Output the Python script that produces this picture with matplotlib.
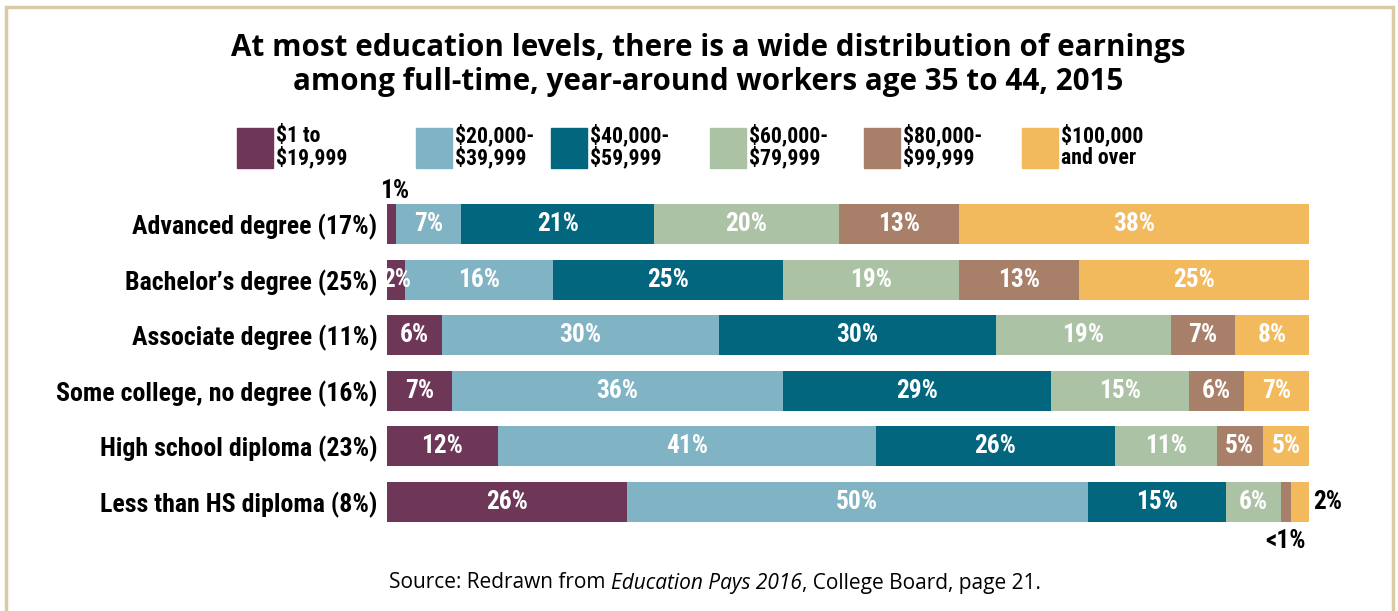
import matplotlib
matplotlib.use("Agg")
import matplotlib.pyplot as plt
from matplotlib.patches import Rectangle
from matplotlib import font_manager
from matplotlib.font_manager import FontProperties

# data
levels = ["Advanced degree (17%)", "Bachelor\u2019s degree (25%)", "Associate degree (11%)",
          "Some college, no degree (16%)", "High school diploma (23%)", "Less than HS diploma (8%)"]
brackets = ["$1 to\n$19,999", "$20,000-\n$39,999", "$40,000-\n$59,999",
            "$60,000-\n$79,999", "$80,000-\n$99,999", "$100,000\nand over"]
shares = [
    [1, 7, 21, 20, 13, 38],
    [2, 16, 25, 19, 13, 25],
    [6, 30, 30, 19, 7, 8],
    [7, 36, 29, 15, 6, 7],
    [12, 41, 26, 11, 5, 5],
    [26, 50, 15, 6, 1, 2],
]
labels = [
    ["1%", "7%", "21%", "20%", "13%", "38%"],
    ["2%", "16%", "25%", "19%", "13%", "25%"],
    ["6%", "30%", "30%", "19%", "7%", "8%"],
    ["7%", "36%", "29%", "15%", "6%", "7%"],
    ["12%", "41%", "26%", "11%", "5%", "5%"],
    ["26%", "50%", "15%", "6%", "<1%", "2%"],
]
colors = ["#6e3657", "#80b3c3", "#02667f", "#abc2a4", "#a8806a", "#f2b95d"]

# find a narrow bold face if there is one
ents = font_manager.fontManager.ttflist
names = {f.name for f in ents}
cond_fam, cond_str = None, "normal"
for n in ["Roboto Condensed", "Liberation Sans Narrow", "Noto Sans Condensed",
          "DejaVu Sans Condensed", "Open Sans Condensed", "Arial Narrow"]:
    if n in names:
        cond_fam = n
        break
if cond_fam is None:
    for f in ents:
        if ("Condensed" in f.name or "Narrow" in f.name) and "CJK" not in f.name:
            cond_fam = f.name
            break
if cond_fam is None:
    for f in ents:
        if str(f.stretch) in ("condensed", "semi-condensed") and "CJK" not in f.name:
            cond_fam, cond_str = f.name, f.stretch
            break
if cond_fam is None:
    cond_fam = "Roboto" if "Roboto" in names else "DejaVu Sans"
head = "Open Sans" if "Open Sans" in names else "DejaVu Sans"

W, H = 1398, 611
fig = plt.figure(figsize=(W / 100, H / 100), dpi=100)
r = fig.canvas.get_renderer()


def fit(text, width, base=15):
    fp = FontProperties(family=cond_fam, weight="bold", stretch=cond_str, size=base)
    t = fig.text(0, 0, text, fontproperties=fp)
    w = t.get_window_extent(r).width
    t.remove()
    return base * width / w


lab_size = fit("Advanced degree (17%)", 246)
leg_size = fit("$40,000-", 80)
bar_size = fit("21%", 42)
cfp = dict(family=cond_fam, weight="bold", stretch=cond_str)

# tan frame, open at the bottom edge of the picture
fig.patches.append(Rectangle((6 / W, -0.05), (W - 11) / W, 1.05 - 7 / H, transform=fig.transFigure,
                             fill=False, edgecolor="#d9cba3", linewidth=2.5))

fig.text(708 / W, 1 - 65 / H, "At most education levels, there is a wide distribution of earnings\n"
         "among full-time, year-around workers age 35 to 44, 2015",
         ha="center", va="center", fontsize=21.3, fontweight="bold", family=head,
         linespacing=1.17)

# legend
leg_x = [237, 416, 551, 710, 864, 1022]
for x, c, t in zip(leg_x, colors, brackets):
    fig.patches.append(Rectangle((x / W, 1 - 168 / H), 36 / W, 40 / H,
                                 transform=fig.transFigure, color=c))
    fig.text((x + 39) / W, 1 - 147 / H, t, ha="left", va="center", fontsize=leg_size,
             linespacing=0.95, **cfp)

ax = fig.add_axes([387 / W, 1 - 529.8 / H, 922 / W, 333.6 / H])
for i, row in enumerate(shares):
    left = 0
    for j, v in enumerate(row):
        ax.barh(i, v, left=left, height=0.72, color=colors[j], linewidth=0)
        lab = labels[i][j]
        cx = left + v / 2
        if i == 0 and j == 0:
            ax.text(cx + 0.3, i - 0.46, lab, ha="center", va="baseline", fontsize=bar_size,
                    color="black", **cfp)
        elif i == 5 and j == 4:
            ax.text(cx, i + 0.83, lab, ha="center", va="baseline", fontsize=bar_size,
                    color="black", **cfp)
        elif i == 5 and j == 5:
            ax.text(left + v + 0.5, i, lab, ha="left", va="center", fontsize=bar_size,
                    color="black", **cfp)
        else:
            ax.text(cx, i, lab, ha="center", va="center", fontsize=bar_size,
                    color="white", **cfp)
        left += v

ax.set_xlim(0, 100)
ax.set_ylim(5.5, -0.5)
ax.set_yticks(range(len(levels)))
ax.set_yticklabels(levels, fontsize=lab_size, **cfp)
ax.tick_params(axis="y", length=0, pad=7)
ax.set_xticks([])
for s in ax.spines.values():
    s.set_visible(False)

# source line with italic title
parts = [("Source: Redrawn from ", "normal"), ("Education Pays 2016", "italic"),
         (", College Board, page 21.", "normal")]
texts = [fig.text(0, 1 - 583 / H, p, fontsize=15, style=s, family=head, va="center")
         for p, s in parts]
widths = [t.get_window_extent(r).width for t in texts]
x = 715 - sum(widths) / 2
for t, w in zip(texts, widths):
    t.set_x(x / W)
    x += w

fig.savefig("out.png", dpi=100)
